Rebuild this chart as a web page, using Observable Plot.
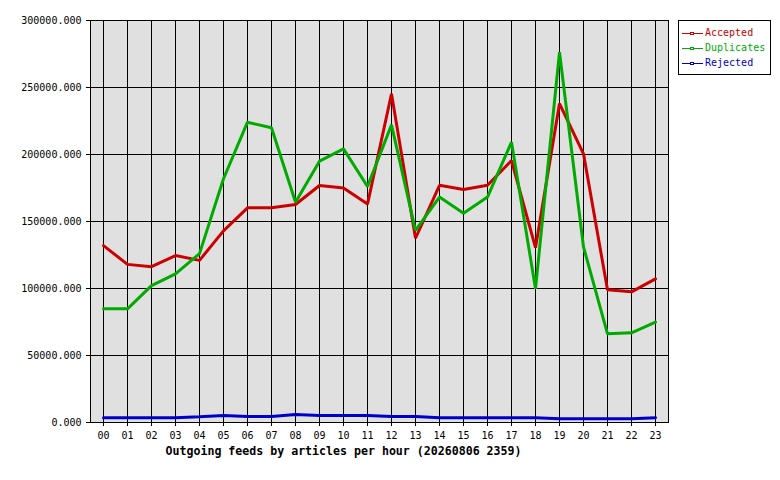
<!DOCTYPE html>
<html><head><meta charset="utf-8">
<script src="https://cdn.jsdelivr.net/npm/d3@7"></script>
<script src="https://cdn.jsdelivr.net/npm/@observablehq/plot@0.6"></script>
<style>
body{margin:0;background:#fff;}
#wrap{position:relative;width:780px;height:480px;}
#legend{position:absolute;left:678px;top:20px;width:91px;height:53px;border:1px solid #000;background:#fff;font:10px "DejaVu Sans Mono",monospace;}
#legend .row{position:absolute;left:3px;height:12px;white-space:nowrap;}
#legend svg{position:absolute;left:0;top:0;}
#legend span{position:absolute;left:23px;top:-1px;line-height:12px;}
svg.plot{shape-rendering:crispEdges;}
</style></head><body><div id="wrap"><div id="legend"></div></div>
<script>
const hours = ["00","01","02","03","04","05","06","07","08","09","10","11","12","13","14","15","16","17","18","19","20","21","22","23"];
const accepted   = [132000,118000,116300,124600,121000,143000,160200,160300,162700,176900,175000,163000,245300,137500,177000,173900,177000,195500,130500,238000,200500,99000,97500,107200];
const duplicates = [84800,84800,102200,110900,126000,181900,224100,219900,164400,195000,204200,176100,222100,143300,168200,156200,168200,209200,99800,276400,131000,66200,66900,74900];
const rejected   = [3500,3500,3500,3500,4300,5200,4500,4500,6000,5200,5200,5200,4500,4500,3500,3500,3500,3500,3500,2800,2800,2800,2800,3500];
const seriesNames = ["Accepted","Duplicates","Rejected"];
const seriesColors = ["#cc0000","#00aa00","#0000cc"];
const yTicks = [0,50000,100000,150000,200000,250000,300000];
const xTitle = "Outgoing feeds by articles per hour (20260806 2359)";

const rows = [];
[accepted, duplicates, rejected].forEach((arr, i) =>
  arr.forEach((v, j) => rows.push({hour: hours[j], value: v, series: seriesNames[i]})));

const chart = Plot.plot({
  width: 780, height: 480,
  marginLeft: 90, marginRight: 112, marginTop: 20, marginBottom: 58,
  style: {fontFamily: '"DejaVu Sans Mono", monospace', fontSize: "10px", color: "#000", background: "#fff", overflow: "visible"},
  x: {type: "point", domain: hours, padding: 0.5},
  y: {domain: [0, 300000]},
  color: {domain: seriesNames, range: seriesColors},
  marks: [
    Plot.frame({fill: "#e0e0e0", stroke: null}),
    Plot.gridX({stroke: "#000", strokeOpacity: 1}),
    Plot.gridY(yTicks, {stroke: "#000", strokeOpacity: 1}),
    Plot.axisY(yTicks, {tickSize: 4, tickPadding: 5, tickFormat: d3.format(".3f"), label: null, fill: "#000", stroke: "#000"}),
    Plot.axisX({tickSize: 4, tickPadding: 5, label: null, fill: "#000", stroke: "#000"}),
    Plot.line(rows, {x: "hour", y: "value", stroke: "series", z: "series", strokeWidth: 3, strokeLinejoin: "miter"}),
    Plot.frame({stroke: "#000", strokeOpacity: 1}),
    Plot.text([xTitle], {frameAnchor: "bottom", dy: 29, dx: -36, lineAnchor: "middle", textAnchor: "middle", fontWeight: "bold", fontSize: 11.6, fill: "#000"})
  ]
});
document.getElementById("wrap").prepend(chart);

const legend = document.getElementById("legend");
seriesNames.forEach((name, i) => {
  const row = document.createElement("div");
  row.className = "row";
  row.style.top = (7 + i * 15) + "px";
  const c = seriesColors[i];
  row.innerHTML = `<svg width="24" height="12"><line x1="0" y1="5.5" x2="21" y2="5.5" stroke="${c}" stroke-width="1"/><rect x="8.5" y="4.5" width="3" height="2" fill="#fff" stroke="${c}" stroke-width="1"/></svg><span style="color:${c}">${name}</span>`;
  legend.appendChild(row);
});
</script>
</body></html>
